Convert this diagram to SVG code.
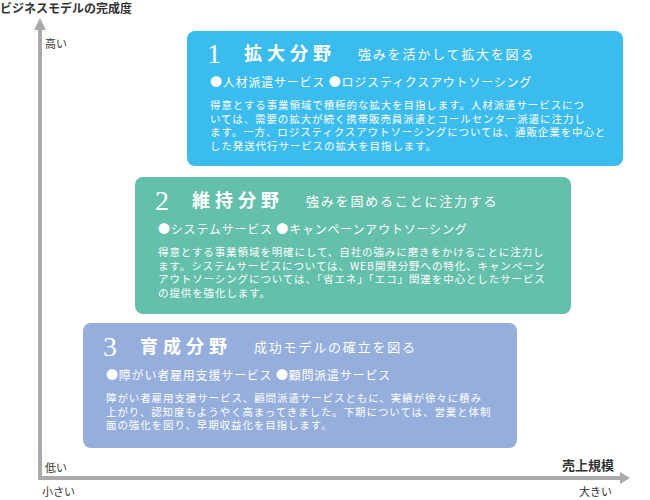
<svg xmlns="http://www.w3.org/2000/svg" width="650" height="500" viewBox="0 0 650 500">
<style>
text{font-family:"Noto Sans CJK JP","Noto Sans",sans-serif;fill:#fff}
.ax{fill:#333;font-size:11px}
.num{font-family:"Liberation Serif",serif;font-size:28px}
.tt{font-size:18px;font-weight:bold;letter-spacing:5px}
.st{font-size:13px;letter-spacing:1.8px}
.bl{font-size:12px;letter-spacing:0.8px}
.bd{font-size:10.5px;letter-spacing:0.9px}
</style>
<rect width="650" height="500" fill="#fff"/>
<g id="connectors" fill="#aaa" stroke="none">
<rect x="38" y="28" width="4" height="452"/>
<polygon points="34,30 40,18 46,30"/>
<rect x="38" y="476" width="584" height="4"/>
<polygon points="620,472 630,478 620,484"/>
</g>
<text x="0" y="13" class="ax" style="font-weight:bold;font-size:12px">ビジネスモデルの完成度</text>
<text x="45" y="48" class="ax">高い</text>
<text x="45" y="472" class="ax">低い</text>
<text x="612" y="496" class="ax" text-anchor="end">大きい</text>
<text x="42" y="496" class="ax">小さい</text>
<text x="614" y="470" class="ax" text-anchor="end" style="font-weight:bold;font-size:13px">売上規模</text>
<g id="n1">
<rect x="187" y="31" width="436" height="135" rx="8" fill="#3bbcee"/>
<text x="207" y="63" class="num">1</text>
<text x="244" y="60" class="tt">拡大分野</text>
<text x="358" y="59" class="st">強みを活かして拡大を図る</text>
<text x="210" y="87" class="bl">●人材派遣サービス ●ロジスティクスアウトソーシング</text>
<text class="bd"><tspan x="210" y="109">得意とする事業領域で積極的な拡大を目指します。人材派遣サービスにつ</tspan><tspan x="210" y="122.5">いては、需要の拡大が続く携帯販売員派遣とコールセンター派遣に注力し</tspan><tspan x="210" y="136">ます。一方、ロジスティクスアウトソーシングについては、通販企業を中心と</tspan><tspan x="210" y="149.5">した発送代行サービスの拡大を目指します。</tspan></text>
</g>
<g id="n2">
<rect x="135" y="177" width="436" height="137" rx="8" fill="#64c0aa"/>
<text x="155" y="210" class="num">2</text>
<text x="192" y="207" class="tt">維持分野</text>
<text x="306" y="206" class="st">強みを固めることに注力する</text>
<text x="158" y="234" class="bl">●システムサービス ●キャンペーンアウトソーシング</text>
<text class="bd"><tspan x="158" y="256">得意とする事業領域を明確にして、自社の強みに磨きをかけることに注力し</tspan><tspan x="158" y="269.5">ます。システムサービスについては、WEB開発分野への特化、キャンペーン</tspan><tspan x="158" y="283">アウトソーシングについては、「省エネ」「エコ」関連を中心としたサービス</tspan><tspan x="158" y="296.5">の提供を強化します。</tspan></text>
</g>
<g id="n3">
<rect x="83" y="323" width="434" height="125" rx="8" fill="#95aedb"/>
<text x="103" y="356" class="num">3</text>
<text x="140" y="353" class="tt">育成分野</text>
<text x="254" y="352" class="st">成功モデルの確立を図る</text>
<text x="106" y="380" class="bl">●障がい者雇用支援サービス ●顧問派遣サービス</text>
<text class="bd"><tspan x="106" y="402">障がい者雇用支援サービス、顧問派遣サービスともに、実績が徐々に積み</tspan><tspan x="106" y="415.5">上がり、認知度もようやく高まってきました。下期については、営業と体制</tspan><tspan x="106" y="429">面の強化を図り、早期収益化を目指します。</tspan></text>
</g>
</svg>
